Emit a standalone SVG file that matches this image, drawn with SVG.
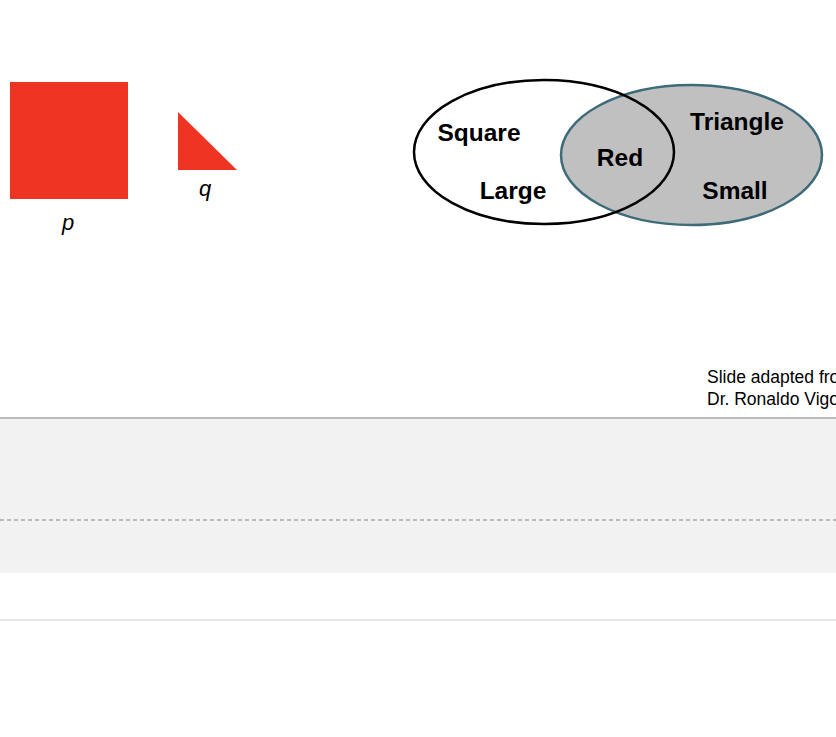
<svg xmlns="http://www.w3.org/2000/svg" width="836" height="737" viewBox="0 0 836 737">
<style>
.lbl{font-family:"Liberation Sans",Arial,sans-serif;font-weight:bold;font-size:24.5px;fill:#000;text-anchor:middle}
.var{font-family:"Liberation Sans",Arial,sans-serif;font-style:italic;font-size:22px;fill:#000;text-anchor:middle}
.note{font-family:"Liberation Sans",Arial,sans-serif;font-size:17.5px;fill:#000}
.red{fill:#ee3524}
</style>
<rect width="836" height="737" fill="#fff"/>
<g id="band">
<rect x="0" y="418" width="836" height="155" fill="#f2f2f2"/>
<line x1="0" y1="418" x2="836" y2="418" stroke="#bbbbbb" stroke-width="2"/>
<line x1="0" y1="520" x2="836" y2="520" stroke="#a8a8a8" stroke-width="1.5" stroke-dasharray="4 3"/>
<line x1="0" y1="620" x2="836" y2="620" stroke="#e6e6e6" stroke-width="2"/>
</g>
<g id="square-p">
<rect class="red" x="10" y="82" width="118" height="117"/>
<text class="var" x="68" y="230">p</text>
</g>
<g id="triangle-q">
<polygon class="red" points="178,112 178,170 237,170"/>
<text class="var" x="205" y="196">q</text>
</g>
<g id="venn">
<ellipse cx="544" cy="152" rx="130" ry="72" fill="#fff"/>
<ellipse cx="691.5" cy="155" rx="130.5" ry="70" fill="#c0c0c0" stroke="#3d6b7a" stroke-width="2.5"/>
<ellipse cx="544" cy="152" rx="130" ry="72" fill="none" stroke="#000" stroke-width="2.5"/>
<text class="lbl" x="479" y="141">Square</text>
<text class="lbl" x="513" y="199">Large</text>
<text class="lbl" x="620" y="166">Red</text>
<text class="lbl" x="737" y="130">Triangle</text>
<text class="lbl" x="735" y="199">Small</text>
</g>
<g id="credit">
<text class="note" x="707" y="383">Slide adapted from</text>
<text class="note" x="707" y="405">Dr. Ronaldo Vigo</text>
</g>
</svg>
